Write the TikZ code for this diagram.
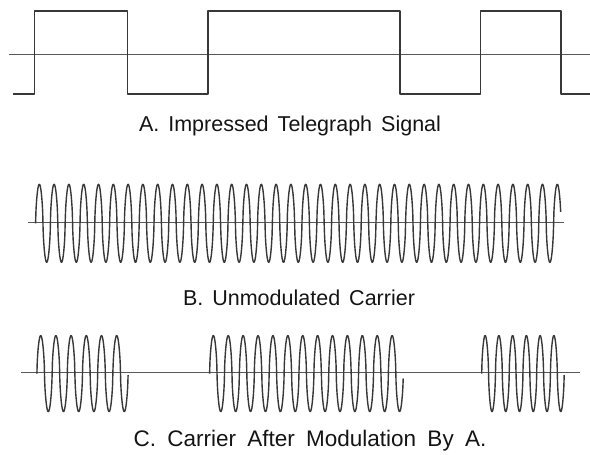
\documentclass[tikz,border=0pt]{standalone}
\usepackage{fontspec}
\setmainfont{Liberation Sans}
\begin{document}
\begin{tikzpicture}[x=1pt,y=1pt,
  wave/.style={line width=1.4pt, draw=black!78, line join=round},
  axisline/.style={line width=1pt, draw=black!65},
  caption/.style={font={\fontsize{21.5}{25}\selectfont\spaceskip=0.42em\relax}, text=black!92, inner sep=0pt, anchor=base},
  declare function={rsin(\a)=sin(\a)*pow(abs(sin(\a))+0.0001,-0.4);}]
\useasboundingbox (0,0) rectangle (590,-455);

% ---------- A: square wave ----------
\coordinate (aL) at (9,-54);
\coordinate (aR) at (590,-54);
\draw[axisline] (aL) -- (aR);
\draw[wave] (13,-94) -- (34.7,-94) -- (34.7,-11) -- (127.3,-11) -- (127.3,-94)
  -- (208,-94) -- (208,-11) -- (400,-11) -- (400,-94) -- (480.3,-94)
  -- (480.3,-11) -- (561,-11) -- (561,-94) -- (591,-94);
\node[caption] (capA) at (290,-131.5) {A. Impressed Telegraph Signal};

% ---------- B: unmodulated carrier ----------
\coordinate (bL) at (28.3,-222.5);
\coordinate (bR) at (564,-222.5);
\draw[axisline] (bL) -- (bR);
\draw[wave] plot[domain=0:35.5, samples=1400, variable=\t]
  ({35.6+14.8*\t},{-223.3+39*rsin(360*\t)});
\node[caption] (capB) at (299,-305) {B. Unmodulated Carrier};

% ---------- C: modulated carrier ----------
\coordinate (cL) at (21,-372.8);
\coordinate (cR) at (580,-372.8);
\draw[axisline] (cL) -- (cR);
\draw[wave] plot[domain=0:6, samples=260, variable=\t]
  ({36.9+15.2*\t},{-373.6+38*rsin(360*\t)});
\draw[wave] plot[domain=0:13, samples=540, variable=\t]
  ({209.6+14.9*\t},{-373.6+38*rsin(360*\t)});
\draw[wave] plot[domain=0:6, samples=260, variable=\t]
  ({481.7+13.75*\t},{-373.6+38*rsin(360*\t)});
\node[caption, font={\fontsize{22.5}{26}\selectfont\spaceskip=0.5em\relax}] (capC) at (310,-446.5) {C. Carrier After Modulation By A.};
\end{tikzpicture}
\end{document}
